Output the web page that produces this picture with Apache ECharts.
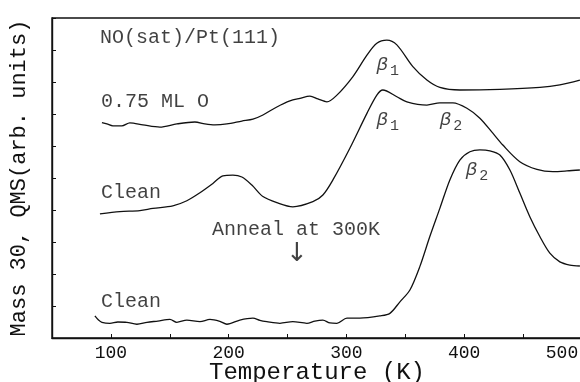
<!DOCTYPE html>
<html>
<head>
<meta charset="utf-8">
<script src="https://cdn.jsdelivr.net/npm/echarts@6/dist/echarts.min.js"></script>
<style>
html,body{margin:0;padding:0;background:#fff;}
#c{width:580px;height:382px;}
</style>
</head>
<body>
<div id="c"></div>
<script>
// Temperature (K) and signal (arb. units) for each curve
const tempO = [92.4,96.6,101.7,109.3,116.1,127.2,141.6,156.0,171.3,179.8,188.3,198.5,211.2,220.6,229.1,240.9,252.0,260.5,269.0,275.8,283.4,291.9,305.5,317.4,325.8,334.3,342.8,356.4,368.3,379.3,396.3,430.3,464.3,481.2,498.2];
const sigO  = [6.73,6.69,6.63,6.63,6.72,6.66,6.59,6.69,6.75,6.69,6.66,6.69,6.78,6.84,6.97,7.22,7.41,7.49,7.56,7.47,7.38,7.59,8.17,8.84,9.21,9.31,9.16,8.48,8.06,7.83,7.75,7.77,7.83,7.91,8.06];

const tempClean = [90.7,107.6,124.6,135.7,152.6,164.5,175.6,186.6,195.1,203.6,211.2,219.7,229.1,240.9,254.5,271.5,280.0,288.5,302.9,317.4,325.8,330.9,342.8,351.3,368.3,379.3,390.4,402.3,413.3,424.3,432.8,447.2,461.7,475.3,487.2,498.2];
const sigClean  = [3.88,3.95,3.98,4.05,4.13,4.29,4.54,4.83,5.07,5.09,5.03,4.78,4.42,4.23,4.10,4.26,4.47,4.94,5.93,7.02,7.59,7.75,7.54,7.38,7.28,7.35,7.35,7.18,6.87,6.40,6.03,5.51,5.27,5.20,5.22,5.25];

const tempAnneal = [86.4,89.5,92.4,99.2,105.9,113.6,122.1,130.6,139.9,150.1,156.0,164.5,175.6,184.1,192.5,198.5,209.5,220.6,226.5,232.4,243.5,254.5,266.4,273.2,280.0,286.0,291.9,300.4,311.4,328.4,336.9,345.4,353.9,362.3,370.8,379.3,387.8,396.3,404.8,413.3,421.8,430.3,438.8,447.3,455.7,464.2,472.7,481.2,489.7,498.2];
const sigAnneal  = [0.69,0.56,0.49,0.46,0.50,0.49,0.43,0.49,0.53,0.58,0.49,0.56,0.51,0.58,0.52,0.43,0.56,0.62,0.55,0.51,0.46,0.51,0.46,0.53,0.56,0.47,0.46,0.62,0.62,0.69,0.77,1.13,1.50,2.23,3.17,4.05,4.94,5.56,5.82,5.88,5.85,5.72,5.25,4.52,3.79,3.17,2.65,2.38,2.28,2.25];

// Annotations (anchored in data coordinates)
const annoT    = [90.7, 91.5, 91.5, 91.5, 185.8, 325.6, 325.6, 379.3, 401.4];
const annoV    = [9.38, 7.38, 4.53, 1.13, 3.38, 8.53, 6.81, 6.81, 5.25];
const annoText = ['NO(sat)/Pt(111)', '0.75 ML O', 'Clean', 'Clean', 'Anneal at 300K',
                  '{b|β}{s|1}', '{b|β}{s|1}', '{b|β}{s|2}', '{b|β}{s|2}'];
const arrowT = [257.9];
const arrowV = [2.62];

const xTicks = [100, 200, 300, 400, 500];

const FONT = 'Liberation Mono';
const zip = (a, b) => a.map((x, i) => [x, b[i]]);

const chart = echarts.init(document.getElementById('c'), null, {renderer: 'canvas'});
const lineStyle = {color: '#111', width: 1.3};
chart.setOption({
  animation: false,
  backgroundColor: '#fff',
  grid: {left: 52, right: -2, top: 18, bottom: 44, containLabel: false, outerBoundsMode: 'none',
         show: true, borderColor: '#111', borderWidth: 1.4, backgroundColor: 'transparent'},
  xAxis: {
    type: 'value', min: 50, max: 500, interval: 50,
    name: 'Temperature (K)', nameLocation: 'middle', nameGap: 23, nameMoveOverlap: false,
    nameTextStyle: {fontFamily: FONT, fontSize: 24, color: '#111', verticalAlign: 'top'},
    axisLine: {lineStyle: {color: '#111', width: 1.4}},
    axisTick: {inside: true, length: 4, lineStyle: {color: '#111'}},
    splitLine: {show: false},
    axisLabel: {
      fontFamily: FONT, fontSize: 18, color: '#111', margin: 6,
      formatter: v => xTicks.includes(v) ? (v === 500 ? '{e|' + v + '}' : String(v)) : '',
      rich: {e: {fontFamily: FONT, fontSize: 18, color: '#111', padding: [0, 40, 0, 0]}}
    }
  },
  yAxis: {
    type: 'value', min: 0, max: 10, interval: 1,
    name: 'Mass 30, QMS(arb. units)', nameLocation: 'middle', nameGap: 22, nameRotate: 90, nameMoveOverlap: false,
    nameTextStyle: {fontFamily: FONT, fontSize: 22, color: '#111'},
    axisLine: {show: true, lineStyle: {color: '#111', width: 1.4}},
    axisTick: {show: true, inside: true, length: 4, lineStyle: {color: '#111'}},
    axisLabel: {show: false},
    splitLine: {show: false}
  },
  series: [
    {type: 'line', data: zip(tempO, sigO), smooth: 0.3, showSymbol: false, symbol: 'none', lineStyle},
    {type: 'line', data: zip(tempClean, sigClean), smooth: 0.3, showSymbol: false, symbol: 'none', lineStyle},
    {type: 'line', data: zip(tempAnneal, sigAnneal), smooth: 0.3, showSymbol: false, symbol: 'none', lineStyle},
    {
      type: 'scatter', symbolSize: 0, silent: true,
      data: annoT.map((t, i) => ({value: [t, annoV[i]], name: annoText[i]})),
      label: {
        show: true, position: 'right', distance: 0, formatter: p => p.name,
        fontFamily: FONT, fontSize: 20, color: '#111',
        rich: {
          b: {fontFamily: FONT, fontSize: 19, fontStyle: 'italic', color: '#111', lineHeight: 22, verticalAlign: 'middle'},
          s: {fontFamily: FONT, fontSize: 15, color: '#111', padding: [12, 0, 0, 2], lineHeight: 22, verticalAlign: 'middle'}
        }
      }
    },
    {
      type: 'scatter', symbolSize: 0, silent: true,
      data: zip(arrowT, arrowV),
      label: {show: true, position: 'inside', formatter: '↓', fontFamily: 'DejaVu Sans', fontSize: 26, color: '#111'}
    }
  ]
});
</script>
</body>
</html>
